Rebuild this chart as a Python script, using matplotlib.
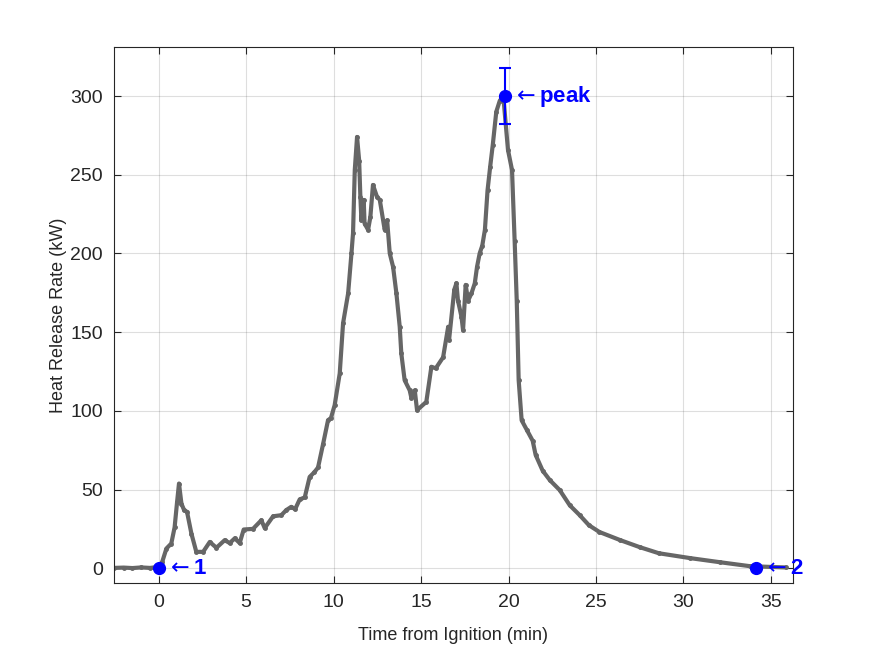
import matplotlib
matplotlib.use("Agg")
import matplotlib.pyplot as plt

plt.rcParams['font.family'] = ['Liberation Sans', 'DejaVu Sans']

# heat release curve (min, kW)
time_min = [-2.57, -2.0, -1.5, -1.0, -0.5, 0.0, 0.2, 0.44, 0.72, 0.91, 1.05, 1.16,
            1.30, 1.45, 1.62, 1.87, 2.15, 2.54, 2.92, 3.30, 3.77, 4.06, 4.35, 4.63,
            4.86, 5.39, 5.87, 6.06, 6.54, 7.01, 7.30, 7.58, 7.80, 8.06, 8.35, 8.63,
            8.90, 9.11, 9.40, 9.68, 9.85, 10.06, 10.35, 10.54, 10.83, 11.02, 11.11,
            11.21, 11.34, 11.46, 11.53, 11.59, 11.72, 11.77, 11.97, 12.10, 12.25,
            12.48, 12.64, 12.92, 13.06, 13.21, 13.40, 13.59, 13.78, 13.87, 14.06,
            14.35, 14.45, 14.64, 14.77, 15.30, 15.59, 15.84, 16.26, 16.55, 16.60,
            16.90, 17.02, 17.11, 17.31, 17.40, 17.55, 17.69, 17.88, 18.07, 18.20,
            18.35, 18.50, 18.65, 18.80, 18.95, 19.10, 19.30, 19.50, 19.70, 19.97,
            20.20, 20.35, 20.47, 20.58, 20.75, 21.04, 21.38, 21.55, 21.95, 22.36,
            22.93, 23.50, 24.07, 24.60, 25.20, 26.40, 27.50, 28.60, 30.40, 32.10,
            33.80, 35.85]
hrr_kw = [0.2, 0.4, 0.1, 0.5, 0.2, 0.8, 4, 12.5, 15.7, 26, 42, 53.8,
          41, 37, 35.8, 22, 10.4, 10.4, 16.7, 13, 17.8, 16, 19, 16,
          24.6, 25, 30.5, 25.5, 33, 33.7, 37, 39, 37.5, 43.7, 45, 58,
          61, 64, 79, 94, 95.5, 103.6, 123.8, 155.6, 174.6, 200, 212.8,
          253, 274, 259, 236, 221, 234, 219, 215, 223, 243.5,
          236, 234, 215, 221, 200, 191.5, 174.6, 153.4, 136.5, 119.5,
          113, 108, 113, 100.4, 105.7, 128, 127, 134, 153.4, 145,
          177, 181, 170, 159.8, 151.3, 180, 170, 174.6, 181, 191.5,
          200, 205, 215, 240, 255, 269, 290, 297, 300, 265.7,
          253, 208, 170, 119.5, 94, 88, 81, 72, 62, 56,
          49.6, 40, 33.7, 27.3, 23, 17.8, 13.4, 9.5, 6.4, 3.8,
          1.3, 0.5]

# marked points
pt_labels = ['1', 'peak', '2']
pt_time = [0.0, 19.78, 34.13]
pt_hrr = [0.0, 300.0, 0.0]
peak_err = 17.5

blue = (0, 0, 1)
dark = (0.15, 0.15, 0.15)
fig = plt.figure(figsize=(8.75, 6.56), dpi=100)
ax = fig.add_axes([0.13, 0.111, 0.776, 0.817])

ax.plot(time_min, hrr_kw, color=(0.4, 0.4, 0.4), lw=3, marker='.', ms=5,
        solid_capstyle='round', zorder=2)

ax.errorbar(pt_time[1], pt_hrr[1], yerr=peak_err, color=blue, lw=1.5,
            capsize=4.5, capthick=1.5, zorder=3, fmt='none')
ax.plot(pt_time, pt_hrr, 'o', color=blue, ms=8.5, zorder=4, clip_on=False)

for lab, t, q in zip(pt_labels, pt_time, pt_hrr):
    ax.annotate(r'$\leftarrow$' + lab, (t, q), xytext=(5, 0), textcoords='offset points',
                ha='left', va='center', color=blue, fontsize=16,
                fontweight='bold', annotation_clip=False, zorder=5)

ax.set_xlim(-2.57, 36.25)
ax.set_ylim(-9.5, 331)
ax.set_xticks(range(0, 36, 5))
ax.set_yticks(range(0, 301, 50))
ax.grid(True, color=dark, alpha=0.15, lw=0.8)
ax.set_axisbelow(True)
ax.tick_params(direction='in', top=True, right=True, labelsize=14,
               colors=dark, length=5, pad=8)
for sp in ax.spines.values():
    sp.set_color(dark)
    sp.set_linewidth(0.8)

ax.set_xlabel('Time from Ignition (min)', fontsize=13, color=dark, labelpad=11)
ax.set_ylabel('Heat Release Rate (kW)', fontsize=13, color=dark, labelpad=2)

fig.savefig('out.png', dpi=100)
